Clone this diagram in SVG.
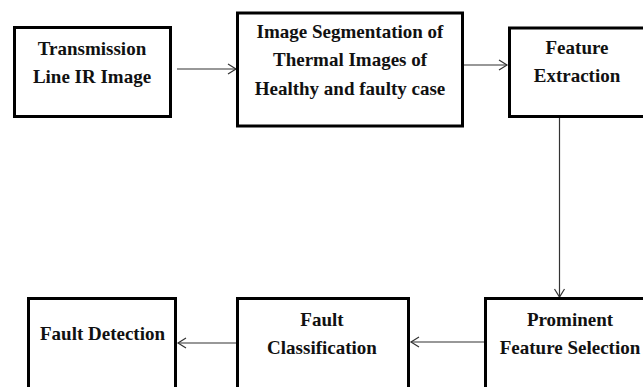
<svg xmlns="http://www.w3.org/2000/svg" width="643" height="387" viewBox="0 0 643 387">
<style>
.box{fill:#fff;stroke:#000;stroke-width:3}
.t{font-family:"Liberation Serif","Times New Roman",serif;font-weight:bold;font-size:19px;fill:#111;text-anchor:middle}
.c{stroke:#333;stroke-width:1.2;fill:none;marker-end:url(#ah)}
</style>
<defs>
<marker id="ah" markerUnits="userSpaceOnUse" markerWidth="12" markerHeight="12" refX="9" refY="6" orient="auto">
<path d="M1,1 L9,6 L1,11" fill="none" stroke="#333" stroke-width="1.2"/>
</marker>
</defs>
<rect width="643" height="387" fill="#fff"/>
<g id="connectors">
<line class="c" x1="177" y1="69" x2="236" y2="69"/>
<line class="c" x1="464" y1="65" x2="507" y2="65"/>
<line class="c" x1="559.5" y1="117" x2="559.5" y2="297"/>
<line class="c" x1="484" y1="342" x2="411" y2="342"/>
<line class="c" x1="236" y1="343" x2="178" y2="343"/>
</g>
<g id="n1">
<rect class="box" x="14.5" y="27.5" width="156" height="89"/>
<text class="t" x="92" y="55">Transmission</text>
<text class="t" x="92" y="83">Line IR Image</text>
</g>
<g id="n2">
<rect class="box" x="237.5" y="13" width="225" height="113"/>
<text class="t" x="350" y="37.5">Image Segmentation of</text>
<text class="t" x="350" y="66">Thermal Images of</text>
<text class="t" x="350" y="94.5">Healthy and faulty case</text>
</g>
<g id="n3">
<rect class="box" x="509.5" y="28" width="140" height="88.5"/>
<text class="t" x="577" y="53.5">Feature</text>
<text class="t" x="577" y="82">Extraction</text>
</g>
<g id="n4">
<rect class="box" x="485.5" y="298.5" width="170" height="100"/>
<text class="t" x="570" y="326">Prominent</text>
<text class="t" x="570" y="353.5">Feature Selection</text>
</g>
<g id="n5">
<rect class="box" x="237.5" y="298.5" width="171" height="100"/>
<text class="t" x="322" y="326">Fault</text>
<text class="t" x="322" y="353.5">Classification</text>
</g>
<g id="n6">
<rect class="box" x="28.5" y="298.5" width="147" height="100"/>
<text class="t" x="102.5" y="340">Fault Detection</text>
</g>
</svg>
